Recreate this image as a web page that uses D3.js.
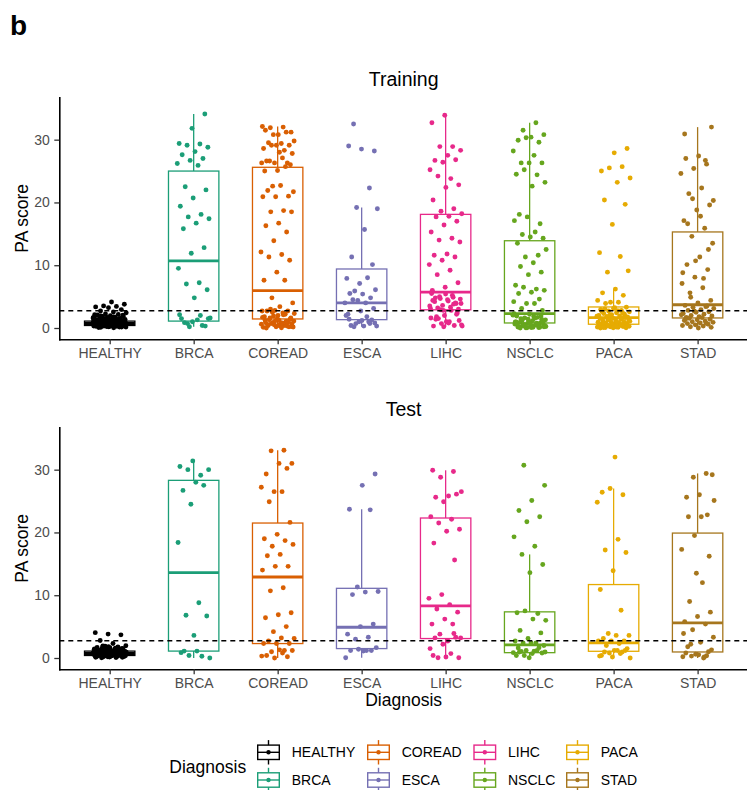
<!DOCTYPE html>
<html>
<head>
<meta charset="utf-8">
<script src="https://cdn.jsdelivr.net/npm/d3@7"></script>
<style>
  body { margin: 0; background: #ffffff; }
  svg { display: block; }
  text { font-family: "Liberation Sans", Arial, Helvetica, sans-serif; }
</style>
</head>
<body>
<svg id="chart" width="747" height="790"></svg>
<script>
// ---- Data -------------------------------------------------------------
const categories = ["HEALTHY", "BRCA", "COREAD", "ESCA", "LIHC", "NSCLC", "PACA", "STAD"];
const palette = ["#000000", "#1B9E77", "#D95F02", "#7570B3", "#E7298A", "#66A61E", "#E6AB02", "#A6761D"];
const yTicks = [0, 10, 20, 30];
const cutoff = 2.75;

// Training cohort: PA score per sample
const trainHEALTHY = [0.04,0.11,0.17,0.21,0.26,0.29,0.31,0.34,0.37,0.39,0.43,0.46,0.49,0.51,0.54,0.56,0.59,0.61,0.63,0.66,0.68,0.69,0.72,0.74,0.75,0.78,0.81,0.83,0.86,0.89,0.92,0.94,0.97,1.01,1.05,1.09,1.13,1.17,1.22,1.27,1.31,1.36,1.42,1.47,1.53,1.58,1.64,1.72,1.81,1.88,1.97,2.06,2.14,2.23,2.41,2.56,2.72,2.93,3.24,3.36,3.44,3.52,3.78,4.13,
  0.08,0.14,0.23,0.33,0.36,0.41,0.44,0.48,0.53,0.58,0.62,0.65,0.71,0.77,0.8,0.84,0.91,0.99,1.03,1.11,1.19,1.25,1.34,1.45,1.61,1.76,1.93,0.27,0.42,0.57,0.64,0.7,0.79,0.88,0.96,1.07,1.2,1.38,1.55,1.84,2.02,0.52,0.67,0.73,0.85,
  0.15,0.38,0.47,0.6,0.69,0.76,0.82,0.9,1.0,1.15,1.29,1.4,1.5,1.68,0.55,0.45,0.35,0.25,0.62,0.74,0.87,0.93,1.12,1.24,1.46,1.7,2.1,0.65,0.5,0.8];
const trainBRCA = [34.1,31.8,29.4,29.3,29.1,28.8,28.1,27.6,27.0,26.7,26.2,25.9,22.5,22.0,20.7,19.4,18.1,17.7,17.4,16.7,15.8,12.8,11.9,9.5,7.2,7.0,6.1,4.8,1.5,0.4,0.2,1.6,1.3,0.85,0.3,1.0,2.1,2.0,0.7,1.5];
const trainCOREAD = [32.1,32.0,31.9,31.2,30.8,31.5,31.2,30.8,29.8,29.4,29.5,29.1,29.1,28.6,28.3,29.1,27.8,28.0,26.6,26.3,26.3,26.3,27.1,26.6,26.0,25.1,25.0,25.7,
  22.6,21.7,22.7,21.9,21.0,20.9,20.9,18.7,18.5,18.5,16.7,16.3,15.3,13.9,12.1,11.7,11.3,10.8,8.9,7.6,7.6,
  4.8,4.0,3.4,2.7,2.7,2.8,2.7,2.4,1.6,1.6,2.0,1.2,1.0,0.9,1.1,0.7,0.4,0.2,0.2,0.1,0.4,0.7,0.7,1.2,0.0,
  0.3,0.5,0.6,0.8,1.3,1.4,1.5,1.8,2.2,2.5,0.15,0.35,0.55,0.95,1.15,1.7,2.1,3.0,0.25,0.45,0.85,1.05,1.9,2.3,0.05];
const trainESCA = [32.5,28.2,28.5,29.0,22.3,19.2,19.0,15.7,11.3,10.1,7.1,7.9,8.0,5.9,6.1,5.4,5.5,4.8,4.4,4.0,4.0,4.5,3.1,2.7,2.2,1.0,0.7,0.3,0.3,0.4,1.3,1.0,2.0,1.8,0.2,0.8,1.2,1.4,0.7];
const trainLIHC = [33.9,32.7,28.9,28.9,28.3,27.5,26.7,26.8,26.4,25.2,23.8,24.2,22.8,22.4,20.4,19.0,18.6,18.2,17.8,17.7,17.0,16.4,15.3,14.3,14.0,13.7,11.8,11.6,11.3,10.8,10.1,9.2,8.5,7.2,6.5,6.0,
  4.9,4.7,3.9,4.3,4.8,3.9,2.8,3.1,2.8,1.5,1.2,1.0,0.3,0.4,0.7,0.3,1.0,1.8,2.4,2.0,
  5.5,5.2,5.0,4.6,4.5,4.2,4.0,3.6,3.5,3.3,3.2,3.0,5.4,4.4,3.8,2.9,0.5,0.8,1.4,2.2,0.2,1.6];
const trainNSCLC = [32.7,31.5,30.8,30.4,29.9,29.6,30.3,28.2,27.5,26.3,26.3,26.3,24.5,24.4,25.2,23.2,22.6,18.1,16.6,17.7,17.1,15.3,14.9,14.3,14.5,13.5,11.6,11.3,12.5,10.4,9.8,8.9,8.5,6.8,6.2,6.5,6.0,5.7,5.5,4.6,3.9,4.2,3.9,3.1,2.8,
  2.2,1.9,1.7,1.62,1.3,1.15,0.9,0.82,0.71,0.64,0.5,0.47,0.33,0.28,0.16,0.09,0.02,2.05,1.84,1.48,1.36,1.02,0.95,0.76,0.58,0.41,0.37,0.21,0.13,0.05,2.27,1.57,1.21,0.87,0.68,0.55,0.44,0.31,0.24,0.11,0.0,1.93,1.41,0.98,0.61,0.35,0.18,0.07];
const trainPACA = [28.6,27.9,25.0,25.7,25.5,23.9,23.2,20.4,19.7,16.5,12.0,11.4,8.9,9.1,6.2,5.6,5.2,4.1,4.4,4.1,3.9,
  3.3,3.1,2.96,2.8,2.7,2.57,2.44,2.31,2.2,2.12,2.01,1.92,1.85,1.78,3.22,2.62,2.38,2.05,1.88,2.75,3.05,
  1.66,1.58,1.5,1.43,1.35,1.27,1.2,1.12,1.05,0.98,0.92,0.86,0.8,0.74,0.68,0.63,1.62,1.31,1.08,0.89,0.71,
  0.57,0.52,0.48,0.43,0.39,0.34,0.3,0.26,0.22,0.18,0.14,0.11,0.08,0.05,0.02,0.0,0.55,0.41,0.28,0.16,0.06];
const trainSTAD = [30.9,26.7,20.6,20.3,17.8,16.6,12.5,10.7,8.8,7.9,4.9,
  32.0,27.4,27.0,26.1,25.4,24.6,22.3,21.4,19.6,18.8,17.1,15.9,14.6,13.5,11.3,10.1,9.3,8.1,7.1,6.4,5.6,4.4,4.0,
  3.6,3.4,3.3,3.1,2.9,2.8,2.6,2.5,2.3,2.2,2.0,1.9,1.8,1.7,3.5,2.7,2.1,1.65,
  1.55,1.4,1.3,1.2,1.1,1.0,0.9,0.8,0.7,0.6,0.5,0.4,0.3,0.2,0.1,0.0,1.35,0.75];

// Training box statistics (HEALTHY ... STAD)
const trainLower  = [0.0, 0.2, 0.0, 0.2, 0.2, 0.0, 0.0, 0.0];
const trainQ1     = [0.4, 1.1, 1.44, 1.33, 2.9, 0.8, 0.6, 1.6];
const trainMedian = [0.72, 10.7, 5.95, 4.0, 5.7, 2.3, 1.65, 3.7];
const trainQ3     = [1.1, 25.0, 25.6, 9.4, 18.1, 13.9, 3.35, 15.3];
const trainUpper  = [2.23, 34.1, 32.1, 19.2, 33.9, 32.7, 6.2, 32.0];

// Test cohort: PA score per sample
const testHEALTHY = [0.03,0.1,0.16,0.22,0.27,0.3,0.35,0.38,0.42,0.45,0.5,0.53,0.57,0.6,0.62,0.65,0.67,0.7,0.73,0.76,0.79,0.82,0.86,0.9,0.93,0.97,1.02,1.06,1.11,1.16,1.21,1.27,1.33,1.39,1.46,1.52,1.6,1.68,1.77,1.86,1.95,2.31,2.79,3.69,3.81,4.04,
  0.07,0.19,0.25,0.33,0.4,0.47,0.55,0.58,0.63,0.69,0.74,0.8,0.84,0.88,0.95,1.0,1.09,1.14,1.24,1.31,1.43,1.57,1.72,0.36,0.49,0.66,0.71,0.77,0.92,1.04,1.19,1.49,1.82,
  0.12,0.29,0.44,0.52,0.61,0.68,0.75,0.83,0.91,0.99,1.08,1.18,1.28,1.37,1.55,1.65,0.56,0.64,0.72,0.87,0.2,0.41,1.12,1.9,0.98];
const testBRCA = [31.4,30.5,29.1,30.0,30.0,28.0,26.7,27.5,24.5,18.4,8.8,6.8,6.7,3.6,0.85,0.27,0.4,0.0,1.1,1.1];
const testCOREAD = [33.1,33.0,31.0,31.0,29.3,30.2,26.5,27.2,26.5,24.9,21.6,19.7,19.0,18.7,17.8,18.1,16.5,16.3,14.6,14.6,14.0,11.2,10.7,7.2,6.9,6.4,5.0,4.2,3.1,3.2,2.7,2.3,2.3,2.3,1.2,1.0,1.2,1.3,0.4,0.2,0.0,0.3,0.8];
const testESCA = [29.3,27.5,23.7,23.6,11.3,10.6,10.5,10.1,5.4,5.0,3.8,3.3,3.0,1.65,1.1,1.2,1.2,1.4,0.05,1.2];
const testLIHC = [29.9,29.7,28.8,26.5,25.8,25.6,26.1,24.9,22.5,22.1,21.5,20.5,20.2,18.3,15.6,10.1,9.5,8.5,7.8,7.3,6.2,5.4,5.4,3.8,3.2,2.7,3.2,3.3,2.2,1.5,0.7,0.05,0.05,0.15,0.4,3.9];
const testNSCLC = [30.7,27.5,25.1,23.5,22.5,21.7,19.3,17.8,16.5,14.9,13.6,7.2,7.1,7.5,6.0,6.2,4.4,4.0,3.1,2.7,2.4,2.4,2.0,2.4,1.6,1.65,1.2,0.85,1.1,1.05,0.8,0.05,0.4,1.2,0.4,0.95,0.7,0.95];
const testPACA = [32.0,26.4,26.0,27.0,24.8,18.9,17.2,16.8,13.9,10.9,7.6,3.9,3.6,3.6,3.1,2.7,2.7,2.7,2.3,2.0,1.5,1.2,0.4,0.95,0.8,0.0,1.2,0.95,1.2,0.15,0.3,0.7];
const testSTAD = [29.4,28.8,25.1,22.5,22.5,16.2,13.5,3.9,0.15,0.3,29.2,26.0,25.6,22.8,19.5,17.3,12.0,9.0,7.3,6.6,5.8,5.4,4.5,3.3,2.5,1.8,1.0,0.6,0.2,0.0,2.2,1.3,0.5,0.8,0.35];

// Test box statistics (HEALTHY ... STAD)
const testLower  = [0.03, 0.0, 0.0, 0.05, 0.05, 0.05, 0.0, 0.0];
const testQ1     = [0.4, 1.1, 2.3, 1.5, 3.1, 0.85, 1.07, 0.96];
const testMedian = [0.72, 13.6, 12.9, 4.9, 8.3, 2.1, 2.4, 5.6];
const testQ3     = [1.1, 28.3, 21.5, 11.1, 22.3, 7.35, 11.7, 19.9];
const testUpper  = [1.95, 31.4, 33.1, 23.7, 29.9, 16.5, 27.0, 29.4];

// ---- Layout -----------------------------------------------------------
const svg = d3.select("#chart");
const plotLeft = 59.3, plotRight = 748, panelH = 242;
const yDomain = [-1.8, 36.75];
const boxHalf = 0.3, jitterHalf = 0.2;
const PHI = 0.6180339887;
const pointR = 2.45;

const x = d3.scaleLinear().domain([0.4, categories.length + 0.6]).range([plotLeft, plotRight]);

const panels = [
  { title: "Training", top: 97.3,
    groups: [trainHEALTHY, trainBRCA, trainCOREAD, trainESCA, trainLIHC, trainNSCLC, trainPACA, trainSTAD],
    lower: trainLower, q1: trainQ1, median: trainMedian, q3: trainQ3, upper: trainUpper },
  { title: "Test", top: 427.3,
    groups: [testHEALTHY, testBRCA, testCOREAD, testESCA, testLIHC, testNSCLC, testPACA, testSTAD],
    lower: testLower, q1: testQ1, median: testMedian, q3: testQ3, upper: testUpper }
];

// deterministic horizontal spread for the jittered points
function spread(i, g) {
  const t = ((i + 1) * PHI + g * 0.2137) % 1;
  return (t - 0.5) * 2 * jitterHalf;
}

// panel label
svg.append("text").attr("x", 10).attr("y", 35)
  .attr("font-size", 28).attr("font-weight", "bold").text("b");

panels.forEach((p, pi) => {
  const y = d3.scaleLinear().domain(yDomain).range([p.top + panelH, p.top]);
  const g = svg.append("g").attr("class", "panel-" + pi);

  // boxplots
  categories.forEach((cat, i) => {
    const cx = x(i + 1);
    const x0 = x(i + 1 - boxHalf), x1 = x(i + 1 + boxHalf);
    const col = palette[i];
    const bg = g.append("g").attr("stroke", col).attr("fill", "none");
    bg.append("line").attr("x1", cx).attr("x2", cx)
      .attr("y1", y(p.q3[i])).attr("y2", y(p.upper[i])).attr("stroke-width", 1.3);
    bg.append("line").attr("x1", cx).attr("x2", cx)
      .attr("y1", y(p.q1[i])).attr("y2", y(p.lower[i])).attr("stroke-width", 1.3);
    bg.append("rect").attr("x", x0).attr("width", x1 - x0)
      .attr("y", y(p.q3[i])).attr("height", y(p.q1[i]) - y(p.q3[i]))
      .attr("stroke-width", 1.3);
    bg.append("line").attr("x1", x0).attr("x2", x1)
      .attr("y1", y(p.median[i])).attr("y2", y(p.median[i])).attr("stroke-width", 2.8);
  });

  // jittered points
  categories.forEach((cat, i) => {
    g.append("g").attr("fill", palette[i])
      .selectAll("circle").data(p.groups[i]).join("circle")
      .attr("cx", (d, k) => x(i + 1 + spread(k, i + pi * 3)))
      .attr("cy", d => y(d))
      .attr("r", pointR);
  });

  // cutoff line
  g.append("line").attr("x1", plotLeft).attr("x2", plotRight)
    .attr("y1", y(cutoff)).attr("y2", y(cutoff))
    .attr("stroke", "#000").attr("stroke-width", 1.3).attr("stroke-dasharray", "5,4");

  // axes
  const yAxis = g.append("g").attr("transform", `translate(${plotLeft},0)`)
    .call(d3.axisLeft(y).tickValues(yTicks).tickSize(5).tickSizeOuter(0).tickPadding(4.5));
  const xAxis = g.append("g").attr("transform", `translate(0,${p.top + panelH})`)
    .call(d3.axisBottom(x).tickValues(d3.range(1, categories.length + 1))
      .tickFormat(v => categories[v - 1]).tickSize(5).tickSizeOuter(0).tickPadding(3.7));
  [yAxis, xAxis].forEach(a => {
    a.select(".domain").attr("stroke", "#000").attr("stroke-width", 1.6).attr("stroke-linecap", "square");
    a.selectAll(".tick line").attr("stroke", "#333").attr("stroke-width", 1.3);
    a.selectAll(".tick text").attr("fill", "#4D4D4D").attr("font-size", 14)
      .attr("font-family", "'Liberation Sans', Arial, sans-serif");
  });

  // titles
  svg.append("text").attr("x", (plotLeft + plotRight) / 2).attr("y", p.top - 11.5)
    .attr("text-anchor", "middle").attr("font-size", 19.5).text(p.title);
  svg.append("text")
    .attr("transform", `translate(28,${p.top + panelH / 2}) rotate(-90)`)
    .attr("text-anchor", "middle").attr("font-size", 17.5).text("PA score");
});

// x-axis title
svg.append("text").attr("x", (plotLeft + plotRight) / 2).attr("y", 706)
  .attr("text-anchor", "middle").attr("font-size", 17.5).text("Diagnosis");

// ---- Legend -----------------------------------------------------------
const legend = svg.append("g");
legend.append("text").attr("x", 169.3).attr("y", 773).attr("font-size", 17.5).text("Diagnosis");
const colX = [257.7, 367.7, 474, 566.7];
const rowY = [752.3, 780];
const keyW = 21.6, keyH = 14.4;
categories.forEach((cat, i) => {
  const cx0 = colX[Math.floor(i / 2)], cy = rowY[i % 2];
  const k = legend.append("g").attr("stroke", palette[i]).attr("stroke-width", 1.4);
  k.append("line").attr("x1", cx0 + keyW / 2).attr("x2", cx0 + keyW / 2)
    .attr("y1", cy - keyH / 2 - 5).attr("y2", cy + keyH / 2 + 5);
  k.append("rect").attr("x", cx0).attr("y", cy - keyH / 2)
    .attr("width", keyW).attr("height", keyH).attr("fill", "#fff");
  k.append("line").attr("x1", cx0).attr("x2", cx0 + keyW).attr("y1", cy).attr("y2", cy);
  legend.append("circle").attr("cx", cx0 + keyW / 2).attr("cy", cy).attr("r", 2.2).attr("fill", palette[i]);
  legend.append("text").attr("x", cx0 + 34).attr("y", cy + 5)
    .attr("font-size", 14).text(cat);
});
</script>
</body>
</html>
